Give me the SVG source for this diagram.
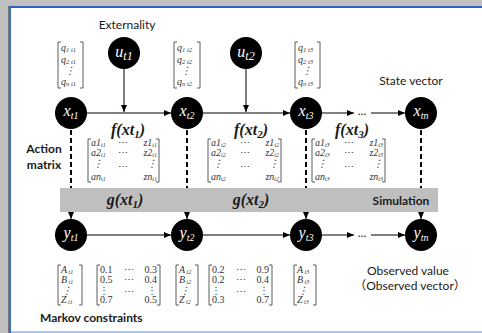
<svg xmlns="http://www.w3.org/2000/svg" width="482" height="333" viewBox="0 0 482 333">
<style>
.node{fill:#000}
.nl{font-family:"Liberation Serif",serif;font-style:italic;fill:#fff;font-size:16px;text-anchor:middle}
.m{font-family:"Liberation Serif",serif;font-style:italic;fill:#333;font-size:10px}
.mu{font-family:"Liberation Serif",serif;fill:#333;font-size:10px}
.br{fill:none;stroke:#333;stroke-width:0.8}
.lbl{font-family:Lato,"Liberation Sans","Noto Sans CJK SC",sans-serif;font-size:12px;fill:#1a1a1a}
.b{font-weight:bold}
.fx{font-family:"Liberation Serif",serif;font-style:italic;font-weight:bold;fill:#1a1a1a;font-size:16px;text-anchor:middle}
.conn{stroke:#000;stroke-width:1;fill:none}
.dash{stroke:#000;stroke-width:2;stroke-dasharray:5 3;fill:none}
.mid{text-anchor:middle}
.end{text-anchor:end}
</style>
<defs>
<marker id="ah" markerUnits="userSpaceOnUse" markerWidth="7" markerHeight="6" refX="7" refY="3" orient="auto">
<path d="M0,0 L7,3 L0,6 z" fill="#000"/>
</marker>
</defs>
<rect x="0" y="0" width="482" height="333" fill="#c0c0c0"/>
<rect x="9" y="6" width="473" height="327" fill="#fff"/>
<line x1="8.5" y1="6" x2="8.5" y2="333" stroke="#7a7a7a" stroke-width="1"/>
<line x1="10" y1="6" x2="10" y2="333" stroke="#3a6fc8" stroke-width="2"/>
<line x1="9" y1="7" x2="482" y2="7" stroke="#2e62c0" stroke-width="2"/>
<line x1="11" y1="332" x2="482" y2="332" stroke="#a9c6ec" stroke-width="2"/>

<g id="connectors">
<line class="conn" x1="124" y1="69" x2="124" y2="112" marker-end="url(#ah)"/>
<line class="conn" x1="246" y1="69" x2="246" y2="112" marker-end="url(#ah)"/>
<line class="conn" x1="87" y1="113" x2="171" y2="113" marker-end="url(#ah)"/>
<line class="conn" x1="203" y1="113" x2="290" y2="113" marker-end="url(#ah)"/>
<line class="conn" x1="322" y1="113" x2="354" y2="113" marker-end="url(#ah)"/>
<line class="conn" x1="371" y1="113" x2="405" y2="113" marker-end="url(#ah)"/>
<line class="conn" x1="87" y1="235" x2="171" y2="235" marker-end="url(#ah)"/>
<line class="conn" x1="203" y1="235" x2="290" y2="235" marker-end="url(#ah)"/>
<line class="conn" x1="322" y1="235" x2="354" y2="235" marker-end="url(#ah)"/>
<line class="conn" x1="371" y1="235" x2="405" y2="235" marker-end="url(#ah)"/>
<line class="dash" x1="71" y1="130" x2="71" y2="190"/>
<line class="dash" x1="187" y1="130" x2="187" y2="190"/>
<line class="dash" x1="306" y1="130" x2="306" y2="190"/>
<line class="dash" x1="421" y1="130" x2="421" y2="190"/>
<line class="conn" stroke-width="1.5" x1="71" y1="212" x2="71" y2="219" marker-end="url(#ah)"/>
<line class="conn" stroke-width="1.5" x1="187" y1="212" x2="187" y2="219" marker-end="url(#ah)"/>
<line class="conn" stroke-width="1.5" x1="306" y1="212" x2="306" y2="219" marker-end="url(#ah)"/>
<line class="conn" stroke-width="1.5" x1="421" y1="212" x2="421" y2="219" marker-end="url(#ah)"/>
<text class="lbl mid" x="362" y="115">...</text>
<text class="lbl mid" x="362" y="237">...</text>
</g>

<g id="simulation">
<rect x="60" y="188" width="378" height="24" fill="#bfbfbf"/>
<text class="fx" x="125" y="205">g(xt<tspan font-size="11" dy="3">1</tspan><tspan dy="-3">)</tspan></text>
<text class="fx" x="251" y="205">g(xt<tspan font-size="11" dy="3">2</tspan><tspan dy="-3">)</tspan></text>
<text class="lbl b mid" x="401" y="205" font-size="13.5">Simulation</text>
</g>

<g id="u_t1"><circle class="node" cx="124" cy="53" r="16"/><text class="nl" x="124" y="57" font-size="18">u<tspan font-size="12" dy="3">t1</tspan></text></g>
<g id="u_t2"><circle class="node" cx="246" cy="53" r="16"/><text class="nl" x="246" y="57" font-size="18">u<tspan font-size="12" dy="3">t2</tspan></text></g>
<g id="x_t1"><circle class="node" cx="71" cy="113" r="16"/><text class="nl" x="71" y="116">x<tspan font-size="10" dy="3">t1</tspan></text></g>
<g id="x_t2"><circle class="node" cx="187" cy="113" r="16"/><text class="nl" x="187" y="116">x<tspan font-size="10" dy="3">t2</tspan></text></g>
<g id="x_t3"><circle class="node" cx="306" cy="113" r="16"/><text class="nl" x="306" y="116">x<tspan font-size="10" dy="3">t3</tspan></text></g>
<g id="x_tn"><circle class="node" cx="421" cy="113" r="16"/><text class="nl" x="421" y="116">x<tspan font-size="10" dy="3">tn</tspan></text></g>
<g id="y_t1"><circle class="node" cx="71" cy="235" r="16"/><text class="nl" x="71" y="238">y<tspan font-size="10" dy="3">t1</tspan></text></g>
<g id="y_t2"><circle class="node" cx="187" cy="235" r="16"/><text class="nl" x="187" y="238">y<tspan font-size="10" dy="3">t2</tspan></text></g>
<g id="y_t3"><circle class="node" cx="306" cy="235" r="16"/><text class="nl" x="306" y="238">y<tspan font-size="10" dy="3">t3</tspan></text></g>
<g id="y_tn"><circle class="node" cx="421" cy="235" r="16"/><text class="nl" x="421" y="238">y<tspan font-size="10" dy="3">tn</tspan></text></g>

<g id="labels">
<text class="lbl mid" x="127" y="29">Externality</text>
<text class="lbl mid" x="411" y="85">State vector</text>
<text class="lbl mid" x="408" y="275">Observed value</text>
<text class="lbl mid" x="410" y="290">（Observed vector）</text>
<text class="lbl b mid" x="44" y="153" font-size="12.5">Action</text>
<text class="lbl b mid" x="44" y="169" font-size="12.5">matrix</text>
<text class="lbl b" x="40" y="322" font-size="13">Markov constraints</text>
<text class="fx" x="128" y="135">f(xt<tspan font-size="11" dy="3">1</tspan><tspan dy="-3">)</tspan></text>
<text class="fx" x="251" y="135">f(xt<tspan font-size="11" dy="3">2</tspan><tspan dy="-3">)</tspan></text>
<text class="fx" x="352" y="135">f(xt<tspan font-size="11" dy="3">3</tspan><tspan dy="-3">)</tspan></text>
</g>

<g id="q_t1">
<path class="br" d="M61,42 H58 V88 H61 M80,42 H83 V88 H80"/>
<text class="m" x="61" y="51">q<tspan font-size="6.5" dy="1">1 t1</tspan></text>
<text class="m" x="61" y="63">q<tspan font-size="6.5" dy="1">2 t1</tspan></text>
<text class="m mid" x="70" y="74">⋮</text>
<text class="m" x="61" y="85">q<tspan font-size="6.5" dy="1">n t1</tspan></text>
</g>
<g id="q_t2">
<path class="br" d="M177,42 H174 V88 H177 M197,42 H200 V88 H197"/>
<text class="m" x="177" y="51">q<tspan font-size="6.5" dy="1">1 t2</tspan></text>
<text class="m" x="177" y="63">q<tspan font-size="6.5" dy="1">2 t2</tspan></text>
<text class="m mid" x="186" y="74">⋮</text>
<text class="m" x="177" y="85">q<tspan font-size="6.5" dy="1">n t2</tspan></text>
</g>
<g id="q_t3">
<path class="br" d="M298,42 H295 V88 H298 M317,42 H320 V88 H317"/>
<text class="m" x="298" y="51">q<tspan font-size="6.5" dy="1">1 t3</tspan></text>
<text class="m" x="298" y="63">q<tspan font-size="6.5" dy="1">2 t3</tspan></text>
<text class="m mid" x="307" y="74">⋮</text>
<text class="m" x="298" y="85">q<tspan font-size="6.5" dy="1">n t3</tspan></text>
</g>

<g id="am_t1">
<path class="br" d="M91,139 H88 V182 H91 M156,139 H159 V182 H156"/>
<text class="m" x="91" y="146">a1<tspan font-size="6" dy="1">t1</tspan></text>
<text class="m" x="91" y="156">a2<tspan font-size="6" dy="1">t1</tspan></text>
<text class="m mid" x="98" y="167">⋮</text>
<text class="m" x="91" y="180">an<tspan font-size="6" dy="1">t1</tspan></text>
<text class="mu mid" x="123" y="146">⋯</text>
<text class="mu mid" x="123" y="156">⋯</text>
<text class="mu mid" x="123" y="170">⋯</text>
<text class="m end" x="157" y="146">z1<tspan font-size="6" dy="1">t1</tspan></text>
<text class="m end" x="157" y="156">z2<tspan font-size="6" dy="1">t1</tspan></text>
<text class="m mid" x="152" y="167">⋮</text>
<text class="m end" x="157" y="180">zn<tspan font-size="6" dy="1">t1</tspan></text>
</g>
<g id="am_t2">
<path class="br" d="M211,139 H208 V182 H211 M278,139 H281 V182 H278"/>
<text class="m" x="211" y="146">a1<tspan font-size="6" dy="1">t2</tspan></text>
<text class="m" x="211" y="156">a2<tspan font-size="6" dy="1">t2</tspan></text>
<text class="m mid" x="218" y="167">⋮</text>
<text class="m" x="211" y="180">an<tspan font-size="6" dy="1">t2</tspan></text>
<text class="mu mid" x="245" y="146">⋯</text>
<text class="mu mid" x="245" y="156">⋯</text>
<text class="mu mid" x="245" y="170">⋯</text>
<text class="m end" x="279" y="146">z1<tspan font-size="6" dy="1">t2</tspan></text>
<text class="m end" x="279" y="156">z2<tspan font-size="6" dy="1">t2</tspan></text>
<text class="m mid" x="274" y="167">⋮</text>
<text class="m end" x="279" y="180">zn<tspan font-size="6" dy="1">t2</tspan></text>
</g>
<g id="am_t3">
<path class="br" d="M315,139 H312 V182 H315 M382,139 H385 V182 H382"/>
<text class="m" x="315" y="146">a1<tspan font-size="6" dy="1">t3</tspan></text>
<text class="m" x="315" y="156">a2<tspan font-size="6" dy="1">t3</tspan></text>
<text class="m mid" x="322" y="167">⋮</text>
<text class="m" x="315" y="180">an<tspan font-size="6" dy="1">t3</tspan></text>
<text class="mu mid" x="349" y="146">⋯</text>
<text class="mu mid" x="349" y="156">⋯</text>
<text class="mu mid" x="349" y="170">⋯</text>
<text class="m end" x="383" y="146">z1<tspan font-size="6" dy="1">t3</tspan></text>
<text class="m end" x="383" y="156">z2<tspan font-size="6" dy="1">t3</tspan></text>
<text class="m mid" x="378" y="167">⋮</text>
<text class="m end" x="383" y="180">zn<tspan font-size="6" dy="1">t3</tspan></text>
</g>

<g id="obs_t1">
<path class="br" d="M61,265 H58 V305 H61 M79,265 H82 V305 H79"/>
<text class="m" x="61" y="273">A<tspan font-size="6" dy="1"> t1</tspan></text>
<text class="m" x="61" y="283">B<tspan font-size="6" dy="1"> t1</tspan></text>
<text class="m mid" x="67" y="294">⋮</text>
<text class="m" x="61" y="303">Z<tspan font-size="6" dy="1"> t1</tspan></text>
</g>
<g id="mk_t1">
<path class="br" d="M100,265 H97 V305 H100 M157,265 H160 V305 H157"/>
<text class="mu" x="100" y="273">0.1</text><text class="mu mid" x="129" y="273">⋯</text><text class="mu end" x="157" y="273">0.3</text>
<text class="mu" x="100" y="283">0.5</text><text class="mu mid" x="129" y="283">⋯</text><text class="mu end" x="157" y="283">0.4</text>
<text class="mu mid" x="104" y="294">⋮</text><text class="mu mid" x="129" y="295">⋯</text><text class="mu mid" x="152" y="294">⋮</text>
<text class="mu" x="100" y="303">0.7</text><text class="mu end" x="157" y="303">0.5</text>
</g>
<g id="obs_t2">
<path class="br" d="M179,265 H176 V305 H179 M195,265 H198 V305 H195"/>
<text class="m" x="179" y="273">A<tspan font-size="6" dy="1"> t2</tspan></text>
<text class="m" x="179" y="283">B<tspan font-size="6" dy="1"> t2</tspan></text>
<text class="m mid" x="185" y="294">⋮</text>
<text class="m" x="179" y="303">Z<tspan font-size="6" dy="1"> t2</tspan></text>
</g>
<g id="mk_t2">
<path class="br" d="M212,265 H209 V305 H212 M269,265 H272 V305 H269"/>
<text class="mu" x="212" y="273">0.2</text><text class="mu mid" x="241" y="273">⋯</text><text class="mu end" x="269" y="273">0.9</text>
<text class="mu" x="212" y="283">0.2</text><text class="mu mid" x="241" y="283">⋯</text><text class="mu end" x="269" y="283">0.4</text>
<text class="mu mid" x="216" y="294">⋮</text><text class="mu mid" x="241" y="295">⋯</text><text class="mu mid" x="264" y="294">⋮</text>
<text class="mu" x="212" y="303">0.3</text><text class="mu end" x="269" y="303">0.7</text>
</g>
<g id="obs_t3">
<path class="br" d="M297,265 H294 V305 H297 M313,265 H316 V305 H313"/>
<text class="m" x="297" y="273">A<tspan font-size="6" dy="1"> t3</tspan></text>
<text class="m" x="297" y="283">B<tspan font-size="6" dy="1"> t3</tspan></text>
<text class="m mid" x="303" y="294">⋮</text>
<text class="m" x="297" y="303">Z<tspan font-size="6" dy="1"> t3</tspan></text>
</g>
</svg>
